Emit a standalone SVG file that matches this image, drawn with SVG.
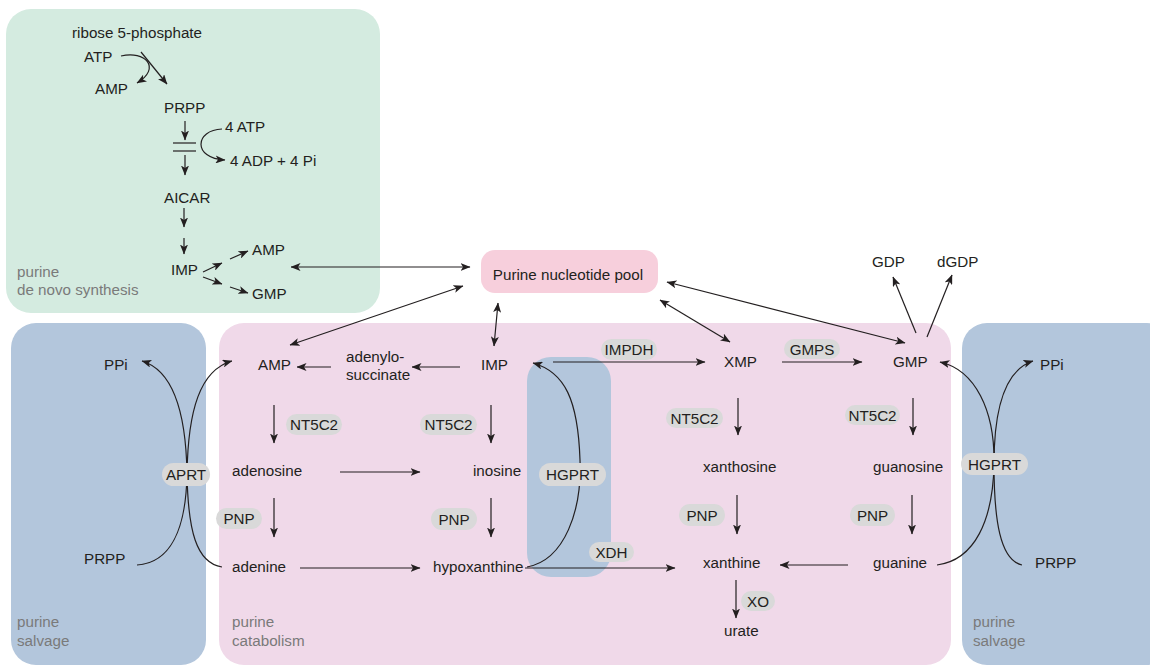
<svg xmlns="http://www.w3.org/2000/svg" width="1150" height="667" viewBox="0 0 1150 667">
<defs>
<marker id="ah" viewBox="0 0 10 8" refX="9.5" refY="4" markerWidth="10" markerHeight="8" markerUnits="userSpaceOnUse" orient="auto-start-reverse">
<path d="M0,0 L10,4 L0,8 L2.5,4 z" fill="#231f20"/>
</marker>
</defs>
<style>
text{font-family:"Liberation Sans",Arial,sans-serif;font-size:15.2px;fill:#231f20}
.reg{fill:#7a7a7a}
.pill{fill:#d9d9d9}
.mid{text-anchor:middle}
.c{fill:none;stroke:#231f20;stroke-width:1.2}
.a{marker-end:url(#ah)}
.d{marker-start:url(#ah);marker-end:url(#ah)}
</style>
<rect width="1150" height="667" fill="#ffffff"/>
<g id="regions">
<rect id="denovo" x="6" y="9" width="374" height="304" rx="25" fill="#d4ebe0"/>
<rect id="salvage-left" x="11" y="323" width="195" height="342" rx="25" fill="#b3c6dc"/>
<rect id="catabolism" x="219" y="323" width="732" height="342" rx="25" fill="#f0d9e9"/>
<rect id="salvage-right" x="962" y="323" width="210" height="342" rx="25" fill="#b3c6dc"/>
<rect id="salvage-mid" x="527" y="357" width="84" height="220" rx="24" fill="#b3c6dc"/>
</g>
<g id="region-labels">
<text class="reg" x="17" y="277">purine</text>
<text class="reg" x="17" y="295">de novo synthesis</text>
<text class="reg" x="17" y="627">purine</text>
<text class="reg" x="17" y="646">salvage</text>
<text class="reg" x="232" y="627">purine</text>
<text class="reg" x="232" y="646">catabolism</text>
<text class="reg" x="973" y="627">purine</text>
<text class="reg" x="973" y="646">salvage</text>
</g>
<g id="connectors">
<path class="c a" d="M121 56 C145 50 162 68 137 83"/>
<line class="c a" x1="141" y1="52" x2="167" y2="84"/>
<line class="c a" x1="185" y1="121" x2="185" y2="140"/>
<line class="c" x1="173" y1="143" x2="196" y2="143"/>
<line class="c" x1="173" y1="151" x2="196" y2="151"/>
<line class="c a" x1="185" y1="155" x2="185" y2="175"/>
<path class="c a" d="M222 129 C195 130 192 158 225 160"/>
<line class="c a" x1="184" y1="208" x2="184" y2="227"/>
<line class="c a" x1="184" y1="238" x2="184" y2="254"/>
<line class="c a" x1="203" y1="272" x2="222" y2="263"/>
<line class="c a" x1="230" y1="259" x2="248" y2="251"/>
<line class="c a" x1="203" y1="277" x2="222" y2="284"/>
<line class="c a" x1="230" y1="287" x2="248" y2="293"/>
<line class="c d" x1="291" y1="267" x2="470" y2="267"/>
<line class="c d" x1="290" y1="345" x2="463" y2="286"/>
<line class="c d" x1="498" y1="303" x2="494" y2="346"/>
<line class="c d" x1="660" y1="300" x2="730" y2="342"/>
<line class="c d" x1="667" y1="282" x2="905" y2="343"/>
<line class="c a" x1="916" y1="333" x2="893" y2="277"/>
<line class="c a" x1="927" y1="337" x2="952" y2="275"/>
<line class="c a" x1="460" y1="367" x2="412" y2="367"/>
<line class="c a" x1="331" y1="367" x2="297" y2="367"/>
<line class="c a" x1="553" y1="362" x2="705" y2="362"/>
<line class="c a" x1="782" y1="362" x2="862" y2="362"/>
<line class="c a" x1="274" y1="405" x2="274" y2="443"/>
<line class="c a" x1="491" y1="405" x2="491" y2="443"/>
<line class="c a" x1="340" y1="472" x2="420" y2="472"/>
<line class="c a" x1="274" y1="498" x2="274" y2="537"/>
<line class="c a" x1="491" y1="498" x2="491" y2="537"/>
<line class="c a" x1="300" y1="568" x2="420" y2="568"/>
<line class="c a" x1="525" y1="568" x2="675" y2="568"/>
<line class="c a" x1="738" y1="398" x2="738" y2="435"/>
<line class="c a" x1="913" y1="398" x2="913" y2="435"/>
<line class="c a" x1="737" y1="495" x2="737" y2="534"/>
<line class="c a" x1="912" y1="495" x2="912" y2="534"/>
<line class="c a" x1="848" y1="565" x2="780" y2="565"/>
<line class="c a" x1="736" y1="580" x2="736" y2="618"/>
<path class="c a" d="M527 567 C565 560 582 510 580 460 C578 400 565 372 533 363"/>
<path class="c a" d="M137 565 C170 563 186 530 187 474 C188 410 200 370 232 361"/>
<path class="c a" d="M222 567 C196 563 188 530 187 474 C186 410 172 370 142 361"/>
<path class="c a" d="M937 565 C975 560 993 520 994 464 C995 410 975 370 940 362"/>
<path class="c a" d="M1022 565 C1000 560 994 520 994 464 C994 410 1005 370 1033 361"/>
</g>
<g id="pool">
<rect x="481" y="250" width="177" height="43" rx="14" fill="#f7cfdc"/>
<text class="mid" x="568" y="280">Purine nucleotide pool</text>
</g>
<g id="denovo-nodes">
<text x="72" y="38">ribose 5-phosphate</text>
<text x="84" y="62">ATP</text>
<text x="95" y="94">AMP</text>
<text x="164" y="113">PRPP</text>
<text x="225" y="132">4 ATP</text>
<text x="230" y="166">4 ADP + 4 Pi</text>
<text x="164" y="203">AICAR</text>
<text x="171" y="275">IMP</text>
<text x="252" y="255">AMP</text>
<text x="252" y="299">GMP</text>
</g>
<g id="nodes">
<g id="n-gdp"><text x="872" y="267">GDP</text></g>
<g id="n-dgdp"><text x="937" y="267">dGDP</text></g>
<g id="n-amp"><text x="258" y="370">AMP</text></g>
<g id="n-adenylosuccinate"><text x="346" y="362">adenylo-</text><text x="346" y="380">succinate</text></g>
<g id="n-imp"><text x="481" y="370">IMP</text></g>
<g id="n-xmp"><text x="724" y="367">XMP</text></g>
<g id="n-gmp"><text x="893" y="367">GMP</text></g>
<g id="n-adenosine"><text x="232" y="476">adenosine</text></g>
<g id="n-inosine"><text x="473" y="476">inosine</text></g>
<g id="n-xanthosine"><text x="703" y="472">xanthosine</text></g>
<g id="n-guanosine"><text x="873" y="472">guanosine</text></g>
<g id="n-adenine"><text x="232" y="572">adenine</text></g>
<g id="n-hypoxanthine"><text x="433" y="572">hypoxanthine</text></g>
<g id="n-xanthine"><text x="703" y="568">xanthine</text></g>
<g id="n-guanine"><text x="873" y="568">guanine</text></g>
<g id="n-urate"><text x="724" y="636">urate</text></g>
<g id="n-ppi-l"><text x="104" y="370">PPi</text></g>
<g id="n-prpp-l"><text x="84" y="564">PRPP</text></g>
<g id="n-ppi-r"><text x="1040" y="370">PPi</text></g>
<g id="n-prpp-r"><text x="1035" y="568">PRPP</text></g>
</g>
<g id="enzymes">
<g id="e-aprt"><rect class="pill" x="162" y="463" width="48" height="23" rx="11.5"/><text class="mid" x="186" y="480">APRT</text></g>
<g id="e-hgprt-m"><rect class="pill" x="539" y="463" width="67" height="23" rx="11.5"/><text class="mid" x="572.5" y="480">HGPRT</text></g>
<g id="e-hgprt-r"><rect class="pill" x="961" y="453" width="67" height="22" rx="11"/><text class="mid" x="994.5" y="469.5">HGPRT</text></g>
<g id="e-nt5c2-1"><rect class="pill" x="286" y="414" width="56" height="21" rx="10.5"/><text class="mid" x="314" y="430">NT5C2</text></g>
<g id="e-nt5c2-2"><rect class="pill" x="420" y="414" width="57" height="21" rx="10.5"/><text class="mid" x="448.5" y="430">NT5C2</text></g>
<g id="e-nt5c2-3"><rect class="pill" x="666" y="408" width="57" height="20" rx="10"/><text class="mid" x="694.5" y="423.5">NT5C2</text></g>
<g id="e-nt5c2-4"><rect class="pill" x="845" y="405" width="55" height="20" rx="10"/><text class="mid" x="872.5" y="420.5">NT5C2</text></g>
<g id="e-pnp-1"><rect class="pill" x="216" y="508" width="46" height="21" rx="10.5"/><text class="mid" x="239" y="524">PNP</text></g>
<g id="e-pnp-2"><rect class="pill" x="431" y="508" width="46" height="22" rx="11"/><text class="mid" x="454" y="524.5">PNP</text></g>
<g id="e-pnp-3"><rect class="pill" x="679" y="504" width="46" height="22" rx="11"/><text class="mid" x="702" y="520.5">PNP</text></g>
<g id="e-pnp-4"><rect class="pill" x="850" y="504" width="45" height="22" rx="11"/><text class="mid" x="872.5" y="520.5">PNP</text></g>
<g id="e-impdh"><rect class="pill" x="601" y="339" width="56" height="21" rx="10.5"/><text class="mid" x="629" y="355">IMPDH</text></g>
<g id="e-gmps"><rect class="pill" x="784" y="339" width="56" height="20" rx="10"/><text class="mid" x="812" y="354.5">GMPS</text></g>
<g id="e-xdh"><rect class="pill" x="589" y="542" width="45" height="20" rx="10"/><text class="mid" x="611.5" y="557.5">XDH</text></g>
<g id="e-xo"><rect class="pill" x="741" y="591" width="34" height="20" rx="10"/><text class="mid" x="758" y="606.5">XO</text></g>
</g>
</svg>
